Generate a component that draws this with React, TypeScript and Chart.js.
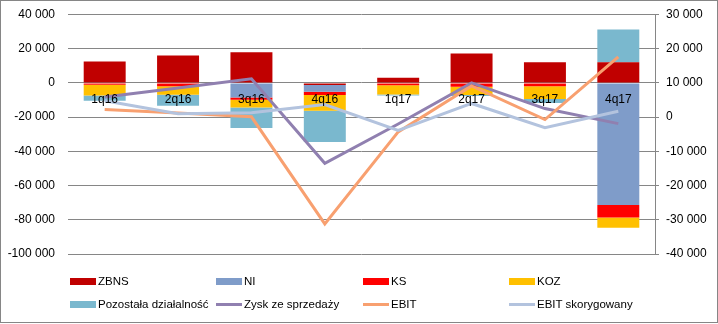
import React, { useEffect, useRef } from 'react';
import { Chart, registerables } from 'chart.js';
Chart.register(...registerables);

const categories = ['1q16', '2q16', '3q16', '4q16', '1q17', '2q17', '3q17', '4q17'];
const zbns = [12500, 16000, 17900, -1200, 3000, 17200, 12100, 12100];
const ni = [0, 0, -8500, -3900, 0, 0, 0, -71300];
const ks = [-1000, -2000, -1400, -2000, -1400, -2300, -2000, -7400];
const koz = [-6400, -4900, -4500, -9200, -5400, -4700, -7400, -5900];
const pozostala = [-3000, -6400, -12000, -18200, -600, -600, -2300, 19100];
const zysk = [5900, 8500, 11200, -13500, -2000, 10000, 2500, -1900];
const ebit = [2200, 1200, 100, -31200, -4300, 9100, -700, 17600];
const ebitSkor = [4800, 1000, 1300, 3700, -3900, 4000, -3100, 1700];

const leftTicks = { min: -100000, max: 40000, step: 20000 };
const rightTicks = { min: -40000, max: 30000, step: 10000 };

const COLORS = {
  zbns: '#C00000',
  ni: '#7F9CC9',
  ks: '#FF0000',
  koz: '#FFC000',
  poz: '#7AB8CE',
  zysk: '#9080B0',
  ebit: '#F8A070',
  ebitSkor: '#B3C3DE',
};

const fmt = (v: number | string) => {
  const n = Number(v);
  const s = Math.abs(n).toString().replace(/\B(?=(\d{3})+(?!\d))/g, ' ');
  return (n < 0 ? '-' : '') + s;
};

const legendItems = [
  { label: 'ZBNS', color: COLORS.zbns, line: false, col: 0, row: 0 },
  { label: 'NI', color: COLORS.ni, line: false, col: 1, row: 0 },
  { label: 'KS', color: COLORS.ks, line: false, col: 2, row: 0 },
  { label: 'KOZ', color: COLORS.koz, line: false, col: 3, row: 0 },
  { label: 'Pozostała działalność', color: COLORS.poz, line: false, col: 0, row: 1 },
  { label: 'Zysk ze sprzedaży', color: COLORS.zysk, line: true, col: 1, row: 1 },
  { label: 'EBIT', color: COLORS.ebit, line: true, col: 2, row: 1 },
  { label: 'EBIT skorygowany', color: COLORS.ebitSkor, line: true, col: 3, row: 1 },
];

const FONT = "'Liberation Sans', Arial, sans-serif";

export default function App() {
  const ref = useRef<HTMLCanvasElement>(null);
  useEffect(() => {
    document.body.style.margin = '0';
    const bar = (label: string, data: number[], color: string) => ({
      type: 'bar' as const,
      label,
      data,
      backgroundColor: color,
      yAxisID: 'y',
      stack: 's',
      order: 10,
      barPercentage: 0.572,
      categoryPercentage: 1,
    });
    const line = (label: string, data: number[], color: string, order: number) => ({
      type: 'line' as const,
      label,
      data,
      borderColor: color,
      backgroundColor: color,
      borderWidth: 3,
      pointRadius: 0,
      tension: 0,
      yAxisID: 'y1',
      order,
    });
    const chart = new Chart(ref.current!, {
      data: {
        labels: categories,
        datasets: [
          bar('ZBNS', zbns, COLORS.zbns),
          bar('NI', ni, COLORS.ni),
          bar('KS', ks, COLORS.ks),
          bar('KOZ', koz, COLORS.koz),
          bar('Pozostała działalność', pozostala, COLORS.poz),
          line('Zysk ze sprzedaży', zysk, COLORS.zysk, 3),
          line('EBIT', ebit, COLORS.ebit, 2),
          line('EBIT skorygowany', ebitSkor, COLORS.ebitSkor, 1),
        ] as any,
      },
      options: {
        animation: false,
        responsive: false,
        maintainAspectRatio: false,
        layout: { padding: { top: 14.5, bottom: 70, left: 0, right: 0 } },
        plugins: { legend: { display: false }, tooltip: { enabled: false } },
        scales: {
          x: {
            position: { y: 0 } as any,
            grid: { display: false, drawTicks: false },
            border: { display: false },
            ticks: { padding: 10, color: '#000', font: { family: FONT, size: 12 }, z: 1, autoSkip: false, maxRotation: 0 },
            afterFit: (s: any) => { s.height = 0; s.paddingLeft = 0; s.paddingRight = 0; },
          },
          y: {
            position: 'left',
            stacked: true,
            min: leftTicks.min,
            max: leftTicks.max,
            ticks: {
              stepSize: leftTicks.step,
              callback: (v: any) => fmt(v),
              color: '#000',
              padding: 13,
              font: { family: FONT, size: 12 },
            },
            grid: { color: '#868686', drawTicks: false, lineWidth: 1 },
            border: { display: false },
            afterFit: (s: any) => { s.width = 68; s.paddingTop = 0; s.paddingBottom = 0; },
          },
          y1: {
            position: 'right',
            min: rightTicks.min,
            max: rightTicks.max,
            ticks: {
              stepSize: rightTicks.step,
              callback: (v: any) => fmt(v),
              color: '#000',
              padding: 7,
              font: { family: FONT, size: 12 },
            },
            grid: { drawOnChartArea: false, color: '#868686', tickLength: 4 },
            border: { display: true, color: '#868686' },
            afterFit: (s: any) => { s.width = 63; s.paddingTop = 0; s.paddingBottom = 0; },
          },
        },
      } as any,
    });
    return () => chart.destroy();
  }, []);

  const colX = [70, 216, 363, 509];
  const rowY = [281, 304];
  return (
    <div style={{ position: 'relative', width: 718, height: 324, background: '#fff', fontFamily: FONT }}>
      <canvas ref={ref} width={718} height={324} style={{ position: 'absolute', left: 0, top: 0 }} />
      {legendItems.map((it) => (
        <div key={it.label}>
          <div
            style={{
              position: 'absolute',
              left: colX[it.col],
              top: rowY[it.row] - (it.line ? 1.5 : 3.5),
              width: 26,
              height: it.line ? 3 : 7,
              background: it.color,
            }}
          />
          <div
            style={{
              position: 'absolute',
              left: colX[it.col] + 28,
              top: rowY[it.row] - 7,
              fontSize: 11.5,
              lineHeight: '14px',
              color: '#000',
              whiteSpace: 'nowrap',
            }}
          >
            {it.label}
          </div>
        </div>
      ))}
      <div
        style={{
          position: 'absolute',
          left: 0,
          top: 0,
          width: 718,
          height: 323,
          boxSizing: 'border-box',
          border: '1px solid #868686',
          pointerEvents: 'none',
        }}
      />
    </div>
  );
}
